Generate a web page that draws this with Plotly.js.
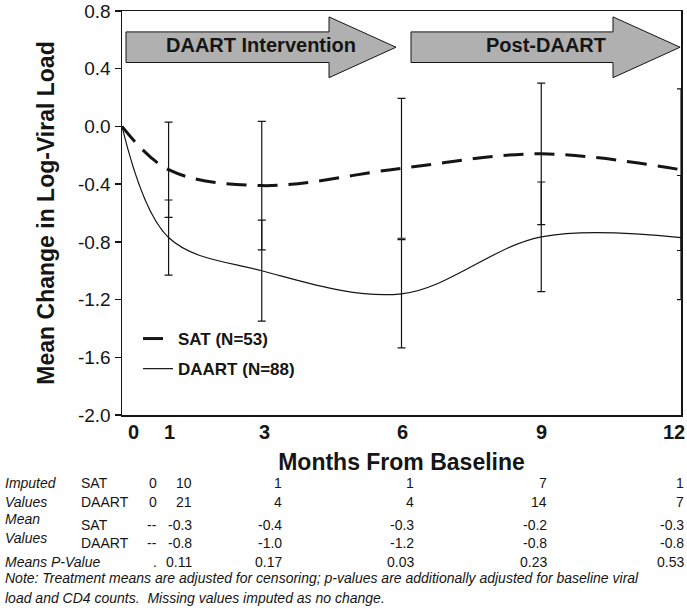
<!DOCTYPE html>
<html><head><meta charset="utf-8">
<script src="https://cdn.plot.ly/plotly-3.0.1.min.js"></script>
<style>html,body{margin:0;padding:0;background:#fff;} #chart{width:687px;height:609px;}</style>
</head><body><div id="chart"></div>
<script>
// ---- data ----
const months = [0, 1, 3, 6, 9, 12];
const monthLabels = ["0", "1", "3", "6", "9", "12"];
const seriesNames = ["SAT (N=53)", "DAART (N=88)"];
const satMean = [0, -0.30, -0.41, -0.29, -0.19, -0.30];
const satErr = [NaN, 0.33, 0.445, 0.485, 0.49, 0.56];
const daartMean = [0, -0.77, -1.00, -1.16, -0.765, -0.77];
const daartErr = [NaN, 0.26, 0.35, 0.375, 0.38, 0.43];
const yTicks = [0.8, 0.4, 0.0, -0.4, -0.8, -1.2, -1.6, -2.0];
const yTickLabels = ["0.8", "0.4", "0.0", "-0.4", "-0.8", "-1.2", "-1.6", "-2.0"];
const phaseLabels = ["DAART Intervention", "Post-DAART"];
const imputedSAT = ["0", "10", "1", "1", "7", "1"];
const imputedDAART = ["0", "21", "4", "4", "14", "7"];
const meanSAT = ["--", "-0.3", "-0.4", "-0.3", "-0.2", "-0.3"];
const meanDAART = ["--", "-0.8", "-1.0", "-1.2", "-0.8", "-0.8"];
const pValues = [".", "0.11", "0.17", "0.03", "0.23", "0.53"];
const noteLines = [
  "Note: Treatment means are adjusted for censoring; p-values are additionally adjusted for baseline viral",
  "load and CD4 counts.\u00a0 Missing values imputed as no change."
];

// ---- layout helpers ----
const W = 687, H = 609, L = 122, R = 6, T = 11, B = 194;
const PW = W - L - R, PH = H - T - B;
const fx = px => (px - L) / PW;
const fy = py => (T + PH - py) / PH;
const FONT = "Liberation Sans, Arial, Helvetica, sans-serif";
const INK = "#151515";

const traces = [
  {
    x: months, y: satMean, name: seriesNames[0], legendgroup: "a",
    type: "scatter", mode: "lines",
    line: {color: INK, width: 3, dash: "20px,11px", shape: "spline", smoothing: 1},
    error_y: {type: "data", array: satErr, visible: true, color: INK, thickness: 1.2, width: 4}
  },
  {
    x: months, y: daartMean, name: seriesNames[1], legendgroup: "b",
    type: "scatter", mode: "lines",
    line: {color: INK, width: 1.2, shape: "spline", smoothing: 1},
    error_y: {type: "data", array: daartErr, visible: true, color: INK, thickness: 1.2, width: 4}
  }
];

// phase arrows (decorations)
function arrowPath(x0, xb, xt) {
  const bt = 0.655, bb = 0.443, ht = 0.759, hb = 0.338, tip = 0.549;
  return `M${x0},${bt} L${xb},${bt} L${xb},${ht} L${xt},${tip} L${xb},${hb} L${xb},${bb} L${x0},${bb} Z`;
}
const arrows = [[0.086, 4.444, 5.882], [6.204, 10.54, 11.98]];
const shapes = arrows.map(a => ({
  type: "path", xref: "x", yref: "y", path: arrowPath(a[0], a[1], a[2]),
  fillcolor: "#b0b0b0", line: {color: INK, width: 1}, layer: "above"
}));

const annotations = [];
arrows.forEach((a, i) => annotations.push({
  xref: "x", yref: "y", x: (a[0] + a[2]) / 2, y: 0.549, yshift: 2,
  text: "<b>" + phaseLabels[i] + "</b>", showarrow: false,
  font: {family: FONT, size: 20, color: INK}, xanchor: "center", yanchor: "middle"
}));

// x tick labels
const labelShift = [11, 1, 3, 1, 0, -7];
months.forEach((m, i) => annotations.push({
  xref: "x", yref: "paper", x: m, y: fy(432), xshift: labelShift[i],
  text: "<b>" + monthLabels[i] + "</b>", showarrow: false,
  font: {family: FONT, size: 20, color: INK}, xanchor: "center", yanchor: "middle"
}));

// table below the chart
function txt(text, px, py, anchor, italic) {
  annotations.push({
    xref: "paper", yref: "paper", x: fx(px), y: fy(py),
    text: italic ? "<i>" + text + "</i>" : text, showarrow: false,
    font: {family: FONT, size: 14, color: INK}, xanchor: anchor, yanchor: "middle"
  });
}
txt("Imputed", 3, 483, "left", true);
txt("Values", 3, 502, "left", true);
txt("Mean", 3, 519, "left", true);
txt("Values", 3, 538, "left", true);
txt("Means P-Value", 3, 562, "left", true);
txt("SAT", 79, 483, "left", false);
txt("DAART", 79, 502, "left", false);
txt("SAT", 79, 525, "left", false);
txt("DAART", 79, 543, "left", false);
const colRight = [159, 194, 284, 416, 549, 686];
const rows = [[imputedSAT, 483], [imputedDAART, 502], [meanSAT, 525], [meanDAART, 543], [pValues, 562]];
rows.forEach(r => r[0].forEach((v, i) => txt(v, colRight[i], r[1], "right", false)));
txt(noteLines[0], 3, 578, "left", true);
txt(noteLines[1], 3, 598, "left", true);

const layout = {
  width: W, height: H,
  margin: {l: L, r: R, t: T, b: B, pad: 0},
  paper_bgcolor: "#fff", plot_bgcolor: "#fff",
  font: {family: FONT, color: INK},
  showlegend: true,
  legend: {
    x: fx(138), y: fy(321), xanchor: "left", yanchor: "top",
    bgcolor: "rgba(0,0,0,0)", borderwidth: 0,
    font: {family: FONT, size: 17, color: INK, weight: "bold"},
    traceorder: "grouped", tracegroupgap: 5
  },
  xaxis: {
    range: [0, 12], showgrid: false, zeroline: false,
    showline: true, mirror: true, linecolor: INK, linewidth: 1.5,
    ticks: "", showticklabels: false,
    title: {text: "<b>Months From Baseline</b>", font: {family: FONT, size: 23, color: INK}, standoff: 38}
  },
  yaxis: {
    range: [-2.0, 0.8], showgrid: false, zeroline: false,
    showline: true, mirror: true, linecolor: INK, linewidth: 1.5,
    ticks: "outside", ticklen: 6, tickwidth: 1.5, tickcolor: INK,
    tickvals: yTicks, ticktext: yTickLabels, ticklabeloverflow: "allow",
    tickfont: {family: FONT, size: 19, color: INK},
    title: {text: "<b>Mean Change in Log-Viral Load</b>", font: {family: FONT, size: 23, color: INK}, standoff: 17}
  },
  shapes: shapes,
  annotations: annotations
};

Plotly.newPlot("chart", traces, layout, {displayModeBar: false, staticPlot: true});
</script>
</body></html>
